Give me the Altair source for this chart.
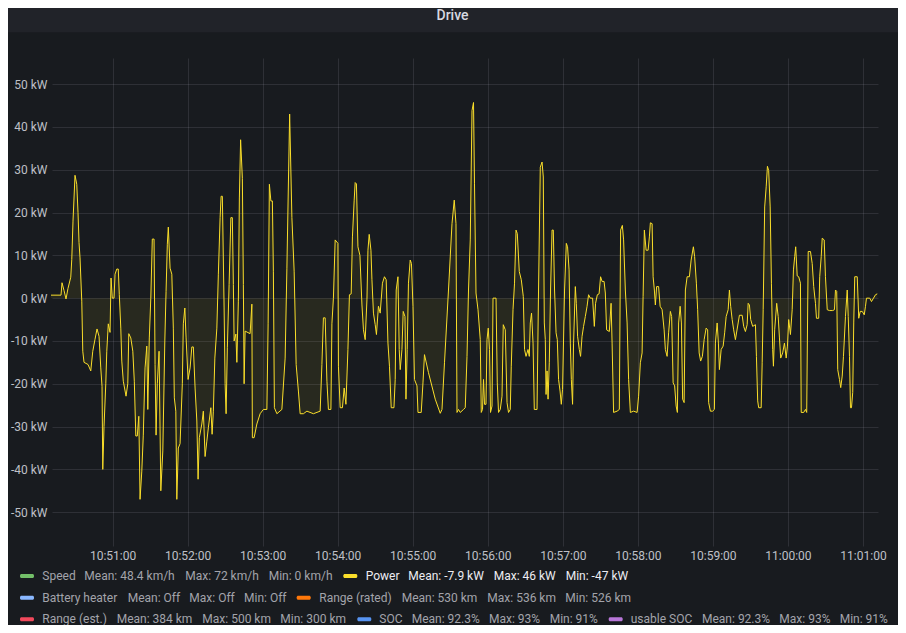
import altair as alt
import pandas as pd

# ---------------- data (seconds after 10:50:00, kW) ----------------
POWER_SAMPLES = [
    (10.8, 0.7), (18.8, 0.7), (19.6, 3.6), (21.2, 1.8), (22.8, -0.2), (24.4, 2.3), (26.6, 4.9), (27.4, 9),
    (28.4, 18), (30, 28.7), (31.4, 26.6), (32.4, 20), (33.2, 13), (34, 9.4), (35.4, -0.7), (36.2, -12.4),
    (37.2, -15), (40.4, -15.5), (42.6, -17), (44.2, -12.4), (46, -9.6), (47.6, -7.2), (49.2, -8.9),
    (50.6, -16.3), (51.6, -20.6), (52.2, -40), (53.2, -30), (54.6, -20), (55.4, -12.4), (56.6, -6), (58, -8),
    (58.8, 4.7), (59.8, 0), (61.2, 0), (62, 5.6), (63.4, 6.8), (64.6, 6.8), (65.4, 0.9), (66.6, -7),
    (67.4, -14.7), (68.6, -19.4), (70.8, -22.9), (72.2, -20), (73, -8.3), (74.6, -9.3), (76.2, -12.4),
    (77.4, -19.4), (78.6, -32.2), (79.8, -32.2), (81, -27.6), (82, -47), (83.4, -40.4), (84.6, -32),
    (86, -16.3), (87.4, -11.2), (88.2, -26), (89.4, -9.3), (90.6, 0), (91.8, 13.8), (93.2, 13.8), (94, -15.5),
    (94.8, -32), (95.8, -20), (97.2, -12.4), (98.6, -45), (100.2, -35.7), (101.8, -10), (102.8, 1.6),
    (103.8, 12.6), (104.6, 16.6), (106, 7), (107.4, 5.6), (108.6, -7), (109.4, -23.3), (110.6, -26.4),
    (111.4, -47), (112.6, -35), (114, -34), (115.8, -20), (116.6, -6), (117.8, -2.3), (118.8, -9.3),
    (120.4, -19), (122, -16.3), (123.4, -11.4), (124.6, -11.4), (126, -21), (127.4, -28.7), (128.4, -42.3),
    (129.4, -32.6), (131.4, -29.4), (132.6, -26.4), (134, -37), (135.4, -33.4), (136.6, -30.3), (138.6, -25.6),
    (139.6, -31.8), (140.6, -26.4), (141.8, -14), (143.4, -7), (144.6, 5.6), (146, 18.8), (146.8, 23.8),
    (147.8, 23.8), (149.2, -2.3), (150, -20), (150.8, -27), (151.8, -11.6), (153.2, 3.2), (154.6, 18.8),
    (155.8, 18.8), (156.6, 3.2), (157.2, -10), (158.6, -8.4), (159.4, -15), (160.6, -0.7), (161.4, 23.4),
    (162.4, 37), (163.8, 28), (164.6, 3.2), (165.2, -20), (166, -7.7), (170, -8.3), (171.4, -1.4),
    (171.8, -32.6), (173.2, -32.6), (175.4, -29.4), (178, -27), (180.6, -26), (183.4, -26), (184.4, -6),
    (185.4, 26.6), (186.6, 22.7), (187.8, 22.7), (188.6, 6.3), (189.4, -25.6), (191.4, -27), (195.4, -26),
    (198, -14), (199.4, 7), (201.6, 43), (203.4, 18.8), (205.2, 6.3), (206.8, -15.5), (208.6, -21.7),
    (210, -27), (212.6, -27), (215.4, -26.4), (220.6, -27), (226, -26.4), (227.4, -15.5), (228.6, -4.6),
    (230, -4.6), (231.4, -19.4), (232.6, -26), (234.6, -26), (235.4, -6), (236.6, 0), (238, 13.6),
    (240.2, 12.8), (240.6, -15.9), (242, -25.6), (243.8, -25.6), (245.2, -21), (246.6, -24.8), (248.2, -12),
    (249.4, 0.8), (250.8, 1), (251.8, 14.3), (253.2, 22.9), (254, 27), (255, 26.7), (256.2, 12), (257.8, 10),
    (259.4, -1.6), (260.6, -7.4), (262, -9.7), (263.4, -0.4), (264.2, 11.2), (265.2, 14.9), (266.6, 11.2),
    (267.4, 4.3), (268.6, -3.5), (270, -6.2), (271, -8.5), (272.6, -1.9), (274, -3.5), (275.8, 3.5),
    (277.4, 5), (278.8, 4.3), (280.2, -10.5), (281.4, -15.9), (282.8, -25.6), (285, -25.6), (286, -19),
    (286.8, 1.9), (288.2, 5), (289.2, -12), (290, -16.7), (291.4, -12), (292.4, -3.1), (293.8, -4.3),
    (294.6, -23.6), (295.6, -12), (296.6, 3.5), (298, 8.9), (299, 8.1), (300.2, -1.9), (301.4, -19),
    (303.4, -20.5), (304.2, -26.7), (306.8, -26.7), (308.2, -19.8), (309.4, -13.2), (312.6, -17.4),
    (318, -23.6), (322, -26.9), (323.4, -26), (325.4, -15.1), (328.6, 1.9), (331.4, 17.4), (333.2, 22.9),
    (334.6, 17.4), (335.4, -26.7), (336.6, -26), (338, -26.7), (340.6, -26), (342, -25.6), (343.4, -13.6),
    (344.6, 1.9), (346, 13.6), (347.4, 43.8), (348.6, 45.7), (349.4, 26.7), (350.6, 1.2), (352.2, -2.7),
    (354, -9.7), (354.8, -26.7), (355.8, -26), (356.6, -19), (357.4, -24.8), (358.6, -24.8), (359.4, -9.7),
    (360.4, -7), (361.4, -12), (362.2, -26.7), (363.4, -25.2), (364.2, 0), (366.6, 0), (367.6, -19.8),
    (368.6, -26.7), (370, -26), (371.4, -22.9), (372.4, -6.2), (374, -7.4), (375.4, -24.4), (376.6, -26.7),
    (378, -26), (378.8, -15.9), (380.2, -2.7), (381.4, 3.5), (382.6, 15.9), (383.6, 15.1), (385.2, 6.2),
    (386.8, 4.3), (388.4, 0.4), (389.4, -12), (390.6, -13.6), (392.2, -12), (393.2, -13.6), (394, -5.8),
    (395, -3.5), (396.2, -10.5), (397.2, -26), (399.4, -26), (400.6, 1.9), (402, 30.6), (403.4, 31.8),
    (404.4, 28.3), (405.2, -5.8), (406, -9.7), (406.6, -22.5), (407.4, -17), (408.2, -23.6), (409.2, -15.1),
    (410.2, 1.9), (411.4, 15.9), (412.4, 15.9), (413.4, 1.9), (414.6, -8.1), (415.6, -9.7), (416.6, -19),
    (417.8, -21.7), (418.8, -24.8), (419.8, -21.3), (421.4, 1.9), (422.8, 12.8), (423.8, 12), (425, 6.6),
    (426, -10.5), (426.8, -19), (427.8, -24.8), (428.6, -10.5), (430, 2.7), (430.8, -1.2), (431.8, -8.9),
    (433.2, -12), (434.2, -13.6), (435.4, -8.9), (436.6, -6.6), (438, -4.3), (439.4, -1.9), (440.6, 0.8),
    (442, 0), (443.8, 0), (445.2, -6.6), (446.2, -1.2), (447.6, 0.8), (449, 1), (450.2, 5), (451.4, 3.9),
    (453, 3.9), (454, 1.2), (455, -7.4), (457.2, -7.8), (458.6, -1.2), (459.4, -10.5), (460.6, -26.7),
    (463.4, -26.4), (465.2, -26), (466.2, 15.9), (467.6, 17), (468.6, 13.6), (470, 1.9), (471.4, -5.8),
    (472.6, -19), (474, -26.7), (476.6, -26.4), (479.4, -26.7), (480.6, -22.9), (482, -15.1), (483.4, -12.8),
    (484.2, 0.4), (485.2, 15.9), (486.6, 11.2), (488.2, 11.2), (489.2, 14.3), (490, 17.6), (491.4, 17.4),
    (492.2, 5), (493.2, 1.9), (494, -1.6), (495, 2.7), (496.6, 2.7), (497.8, -1.9), (499.4, -2.7),
    (501, -7.4), (502, -12), (503.4, -13.6), (504.6, -8.1), (506, -3.1), (507, -4.3), (508.2, -19.8),
    (509.4, -20.5), (510.6, -25.2), (511.6, -26.7), (512.6, -5.8), (513.8, -1.9), (514.8, -5.8),
    (515.8, -23.6), (517, -24.4), (518, 1.9), (519.4, 5), (521.2, 5), (522.6, 8.9), (524.4, 12),
    (525.4, 9.7), (526.8, 3.5), (527.8, -2.7), (529, -12.8), (530.2, -14.7), (531.6, -13.6), (533, -9.7),
    (534.6, -7), (535.8, -7.4), (536.6, -24.4), (538, -26.4), (539.8, -26.4), (541.2, -26), (542, -10.5),
    (543.4, -5.8), (544.4, -10.5), (545.2, -16.7), (546.6, -12), (548.2, -11.2), (549.4, -8.1),
    (550.6, -4.3), (552.2, -2.7), (553.2, 1.9), (554.2, -1.9), (555.4, -5), (556.6, -7.4), (558, -9.7),
    (560.2, -5.8), (561.2, -4), (563.4, -4), (564.6, -6.6), (566, -7.8), (567.4, -6.2), (568.2, -1.2),
    (569.2, -1.6), (570.2, -5), (571.8, -6.6), (574, -6.2), (574.8, -13.6), (575.8, -24), (576.6, -25.6),
    (578.6, -25.6), (579.4, -15.1), (580.2, -2.7), (581.4, 21.3), (582.6, 26), (583.6, 30.8), (584.6, 29.8),
    (585.8, 21.3), (586.8, 3.5), (587.8, -12), (588.4, -15.9), (589.4, -7.4), (591, -1.2), (592.2, -4.3),
    (593.2, -9.3), (594.2, -14), (595.8, -12.8), (597.2, -10.5), (598.6, -14), (599.6, -11.2), (600.6, -5),
    (602, -8.5), (603.4, -2.7), (604.4, 6.6), (605.4, 9.7), (606.2, 12), (607.4, 5.2), (608.6, 5),
    (610, 3.5), (610.6, -26.7), (612.6, -26.7), (614, -26), (615, -26.7), (616.2, 10.9), (618, 10.9),
    (619.4, 8.1), (620.6, 2.7), (622, -1.2), (622.8, -4.7), (624.6, -4.7), (625.4, 5), (626.6, 9.7),
    (627.4, 14), (629, 13.6), (630, 5), (631.4, -2.7), (633.2, -2.9), (635.8, -2.9), (637.2, -2.7),
    (638, 1.9), (639, 1.6), (639.8, -16.7), (641.2, -19), (642.2, -20.9), (643.4, -18.2), (644.4, -13.6),
    (646, -4.3), (647.4, 1.9), (648.2, -4.3), (649.2, -13.6), (650, -25.6), (650.8, -25.6), (651.8, -22),
    (652.6, -5.8), (653.4, 5), (655.4, 5), (656.6, -4.7), (657.8, -3.1), (659.4, -3.1), (661, -3.9),
    (662, -1.9), (662.8, 0), (665.4, 0), (666.8, -0.8), (668.4, 0), (670, 0.8), (671.4, 1),
]

X_TICKS = [60, 120, 180, 240, 300, 360, 420, 480, 540, 600, 660]
Y_TICKS = [-50, -40, -30, -20, -10, 0, 10, 20, 30, 40, 50]

LEGEND_NAMES = ["Speed", "Power", "Battery heater", "Range (rated)", "Range (est.)", "SOC", "usable SOC"]
LEGEND_STATS = [
    ["Mean: 48.4 km/h", "Max: 72 km/h", "Min: 0 km/h"],
    ["Mean: -7.9 kW", "Max: 46 kW", "Min: -47 kW"],
    ["Mean: Off", "Max: Off", "Min: Off"],
    ["Mean: 530 km", "Max: 536 km", "Min: 526 km"],
    ["Mean: 384 km", "Max: 500 km", "Min: 300 km"],
    ["Mean: 92.3%", "Max: 93%", "Min: 91%"],
    ["Mean: 92.3%", "Max: 93%", "Min: 91%"],
]
LEGEND_COLORS = ["#73BF69", "#FADE2A", "#8AB8FF", "#FF780A", "#F2495C", "#5794F2", "#B877D9"]

# ---------------- layout / style ----------------
BG = "#181b1f"
HEADER_BG = "#212329"
LINE_COLOR = "#FADE2A"
AXIS_LABEL = "#bfc0c7"
LEGEND_TEXT = "#a3a4ab"
LEGEND_ACTIVE_TEXT = "#ededf2"
GRID = "#ccccdc"
FONT = "Roboto"

PLOT_W, PLOT_H = 826, 488
PAD = {"left": 44, "top": 50, "right": 20, "bottom": 79}
X_DOMAIN = [11.6, 672]
Y_DOMAIN = [-57.9, 56.1]

# legend layout (plot coordinates)
LEGEND_SWATCH_X = [-32, 291.3, -32, 244.7, -32, 305.3, 556.7]
LEGEND_ROW_Y = [518, 518, 539.7, 539.7, 561.3, 561.3, 561.3]
LEGEND_PART_X = [
    [-9.7, 32.3, 133.3, 216.7],
    [313.7, 356.3, 441.7, 513.7],
    [-9.7, 75.7, 137.3, 192],
    [267.3, 349.7, 435.3, 513.3],
    [-9.7, 64.7, 150.3, 228.3],
    [327.3, 359.7, 437, 497.7],
    [578.7, 650, 727.3, 787.7],
]
ACTIVE = "Power"

df = pd.DataFrame(POWER_SAMPLES, columns=["t", "kw"])
one = pd.DataFrame({"k": [0]})

x_enc = alt.X(
    "t:Q",
    scale=alt.Scale(domain=X_DOMAIN, nice=False, zero=False),
    axis=alt.Axis(
        values=X_TICKS,
        labelExpr="timeFormat(datetime(2000, 0, 1, 10, 50, datum.value), '%H:%M:%S')",
        title=None, domain=False, ticks=False, grid=True,
        gridColor=GRID, gridOpacity=0.12, gridWidth=1,
        labelColor=AXIS_LABEL, labelFont=FONT, labelFontSize=12,
        labelPadding=4, labelFlush=False, labelOverlap=False,
    ),
)
y_enc = alt.Y(
    "kw:Q",
    scale=alt.Scale(domain=Y_DOMAIN, nice=False, zero=False),
    axis=alt.Axis(
        values=Y_TICKS,
        labelExpr="datum.value + ' kW'",
        title=None, domain=False, ticks=False, grid=True,
        gridColor=GRID, gridOpacity=0.12, gridWidth=1,
        labelColor=AXIS_LABEL, labelFont=FONT, labelFontSize=12,
        labelPadding=5, labelOverlap=False,
    ),
)

header = alt.Chart(one).mark_rect(color=HEADER_BG).encode(
    x=alt.value(-PAD["left"]), x2=alt.value(PLOT_W + PAD["right"]),
    y=alt.value(-PAD["top"]), y2=alt.value(-25.7),
)
title = alt.Chart(one).mark_text(
    font=FONT, fontSize=14, fontWeight=500, color="#d8d9e0", align="center", baseline="middle"
).encode(x=alt.value(400.5), y=alt.value(-42), text=alt.value("Drive"))

area = alt.Chart(df).mark_area(color=LINE_COLOR, opacity=0.07).encode(
    x=x_enc, y=y_enc, y2=alt.datum(0)
)
line = alt.Chart(df).mark_line(color=LINE_COLOR, strokeWidth=1).encode(x=x_enc, y=y_enc)

layers = [header, title, area, line]
for name, stats, col, sx, sy, px in zip(
    LEGEND_NAMES, LEGEND_STATS, LEGEND_COLORS, LEGEND_SWATCH_X, LEGEND_ROW_Y, LEGEND_PART_X
):
    layers.append(
        alt.Chart(one).mark_rect(color=col, cornerRadius=1.5).encode(
            x=alt.value(sx), x2=alt.value(sx + 14), y=alt.value(sy - 2), y2=alt.value(sy + 2)
        )
    )
    tcol = LEGEND_ACTIVE_TEXT if name == ACTIVE else LEGEND_TEXT
    for part, xx in zip([name] + stats, px):
        layers.append(
            alt.Chart(one).mark_text(
                font=FONT, fontSize=12, align="left", baseline="middle", color=tcol,
            ).encode(x=alt.value(xx), y=alt.value(sy), text=alt.value(part))
        )

chart = (
    alt.layer(*layers)
    .properties(
        width=PLOT_W, height=PLOT_H, padding=PAD,
        autosize=alt.AutoSizeParams(type="none"), background=BG,
    )
    .configure_view(stroke=None)
)

chart.save("out.html", embed_options={"renderer": "svg", "actions": False})
